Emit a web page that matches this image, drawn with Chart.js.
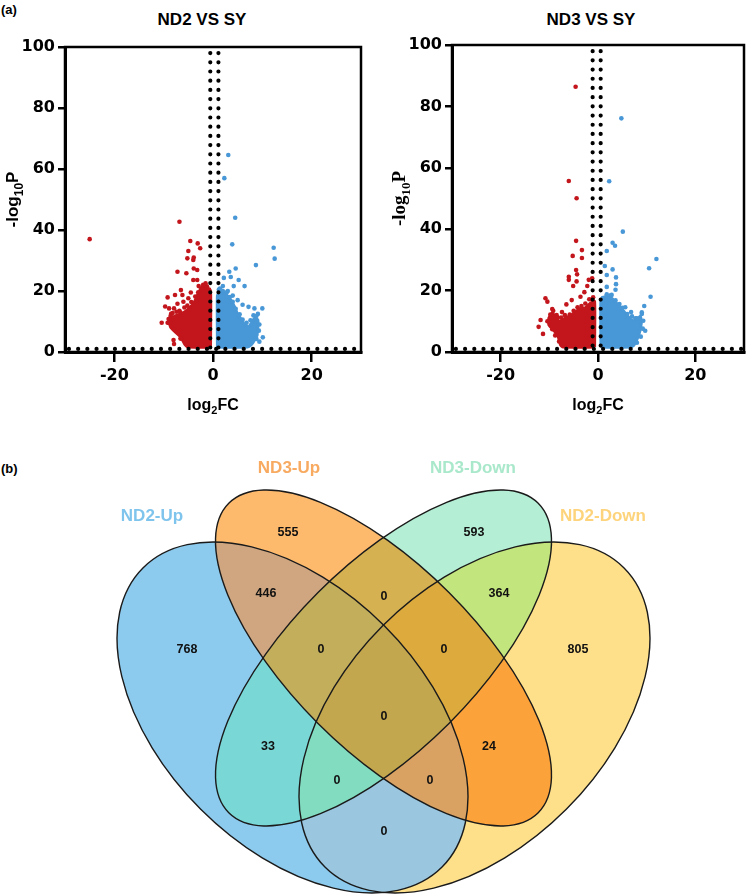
<!DOCTYPE html>
<html>
<head>
<meta charset="utf-8">
<script src="https://cdn.jsdelivr.net/npm/chart.js@4.4.0/dist/chart.umd.min.js"></script>
<style>
  html, body { margin: 0; padding: 0; background: #fff; }
  body { width: 748px; height: 894px; position: relative; overflow: hidden;
         font-family: "Liberation Sans", Arial, sans-serif; }
  .abs { position: absolute; }
  .panel { font-weight: bold; font-size: 13px; color: #000; }
  .ttl { font-weight: bold; font-size: 17px; color: #000; white-space: nowrap; transform: translateX(-50%); }
</style>
</head>
<body>
<div class="abs panel" style="left:1px;top:2px">(a)</div>
<div class="abs ttl" style="left:202px;top:10px">ND2 VS SY</div>
<div class="abs ttl" style="left:591px;top:10px">ND3 VS SY</div>
<div class="abs panel" style="left:1px;top:461px">(b)</div>
<div class="abs" style="left:0;top:0;width:374px;height:420px"><canvas id="c1"></canvas></div>
<div class="abs" style="left:374px;top:0;width:374px;height:420px"><canvas id="c2"></canvas></div>
<div class="abs" style="left:0;top:440px;width:748px;height:454px"><canvas id="c3"></canvas></div>
<script>
// ---------------- DATA ----------------
const X_TICKS = [-20, 0, 20];
const Y_TICKS = [0, 20, 40, 60, 80, 100];

// Panel (a) left: ND2 VS SY  (x = log2FC, y = -log10P)
const nd2DownX = [-25.0,-6.8,-4.6,-3.1,-2.6,-5.0,-5.2,-3.9,-4.0,-7.2,-5.4,-3.9,-3.2,-4.0,-3.2,-2.9,-6.5,-9.2,-7.7,-6.2,-5.0,-2.9,-9.7,-8.9,-7.9,-7.2,-10.4,-9.2,-8.0,-7.9,-1.5,-2.2,-0.8,-6.0,-4.5,-8.5,-6.8,-1.2,-2.0,
                  -8.6,-8.2,-7.4,-6.6,-5.8,-5.2,-4.4,-3.6,-3.0,-2.4,-9.0,-8.9,-7.0,-6.6,-1.6];
const nd2DownY = [37.0,42.7,36.4,35.6,34.0,33.1,30.7,31.0,30.2,26.3,25.8,27.4,26.9,23.6,23.6,21.6,20.3,17.9,18.7,18.7,17.6,18.8,14.9,14.3,14.3,15.8,9.6,9.6,3.9,2.6,22.5,21.0,20.5,16.5,19.5,12.5,13.5,21.5,22.0,
                  11.8,12.8,13.2,12.9,14.6,15.2,16.4,18.2,19.6,20.6,10.8,9.5,6.2,4.4,22.0];
const nd2UpX = [3.1,2.3,4.5,3.9,12.3,12.5,8.7,4.6,3.3,3.6,2.2,5.2,6.4,4.2,2.0,8.4,10.0,7.2,9.1,8.8,10.1,9.4,1.2,3.0,5.0,6.0,4.0,
                1.4,2.0,2.8,3.4,4.0,4.6,5.4,6.0,6.8,7.6,8.2,8.8,9.4,9.3,8.8];
const nd2UpY = [64.6,57.0,44.0,35.3,34.2,30.6,28.5,27.4,26.3,24.6,24.3,23.6,21.6,21.6,21.6,14.3,14.3,14.8,12.5,5.6,4.8,3.4,20.5,20.0,17.0,15.5,18.5,
                20.8,20.0,19.6,18.0,16.5,14.2,12.4,10.6,9.6,10.4,12.0,11.8,9.0,7.0,4.3];
// dense clouds (outline of the solid mass of points)
const nd2DownCloudX = [-0.5,-0.5,-1.2,-2.0,-2.6,-3.3,-3.9,-4.6,-5.2,-6.2,-7.0,-7.9,-8.9,-8.6,-7.6,-6.6,-6.0,-5.6,-5.0,-0.5];
const nd2DownCloudY = [1.6,20.0,21.0,20.8,20.3,18.0,16.0,14.8,13.8,12.7,12.2,11.6,10.5,8.2,6.5,5.0,3.4,2.3,1.6,1.6];
const nd2UpCloudX = [0.9,0.9,1.6,2.6,3.6,4.3,4.9,5.6,6.2,7.2,7.8,8.4,9.1,9.0,8.4,7.7,7.0,0.9];
const nd2UpCloudY = [1.6,18.5,19.8,19.0,17.0,15.0,12.7,11.0,9.4,8.2,9.5,11.0,10.5,6.5,3.9,2.3,1.6,1.6];
const nd2CutX = [-0.55, 1.1];
const nd2CutY = 1.0;

// Panel (a) right: ND3 VS SY
const nd3DownX = [-4.6,-6.0,-4.4,-4.5,-3.3,-5.2,-3.3,-4.5,-4.3,-6.0,-6.0,-5.1,-4.4,-10.8,-10.4,-11.8,-12.2,-11.3,-9.4,-7.4,-5.4,-3.6,-1.9,-2.2,-1.2,-2.8,-8.5,-6.5,
                  -1.0,-1.8,-2.6,-3.4,-4.2,-5.0,-5.8,-6.8,-7.6,-8.4,-9.2,-9.8,-10.4,-9.4,-8.8,-8.0];
const nd3DownY = [86.4,55.7,50.1,36.2,33.2,31.3,30.6,26.7,25.3,23.5,24.5,21.5,23.0,17.5,16.4,10.4,8.2,5.9,14.0,13.0,16.9,18.0,23.5,21.5,24.0,19.5,12.0,15.5,
                  17.8,17.2,15.8,15.0,14.6,13.4,12.2,12.0,11.2,11.2,13.4,12.2,10.0,7.4,5.4,3.4];
const nd3UpX = [4.8,2.3,5.1,3.0,3.5,1.8,12.0,1.4,10.5,3.0,1.8,3.7,3.7,3.6,1.8,10.8,9.5,9.0,9.7,5.6,7.7,2.6,6.8,
                1.0,1.8,2.8,3.6,4.4,5.0,6.0,7.0,8.0,9.0,9.3,9.2,8.8,8.0];
const nd3UpY = [76.1,55.6,39.2,35.6,34.6,32.9,30.3,28.0,27.3,26.9,25.1,24.3,22.1,20.3,21.2,18.0,15.0,12.9,6.9,14.6,11.0,18.5,13.0,
                17.6,18.8,18.6,16.8,15.6,14.4,12.4,11.6,11.0,12.4,10.2,7.6,5.0,3.0];
const nd3DownCloudX = [-0.7,-0.7,-1.5,-2.6,-3.9,-5.3,-6.6,-8.0,-9.4,-10.1,-10.1,-8.3,-7.7,-7.2,-0.7];
const nd3DownCloudY = [1.6,16.5,16.0,14.4,13.9,12.2,11.1,10.0,12.7,11.0,8.9,5.6,2.3,1.6,1.6];
const nd3UpCloudX = [0.6,0.6,1.4,2.6,4.0,5.3,6.7,7.7,8.7,8.9,8.4,7.4,6.8,0.6];
const nd3UpCloudY = [1.6,16.5,18.0,17.8,15.5,13.3,10.6,10.0,11.7,9.5,5.7,2.3,1.6,1.6];
const nd3CutX = [-1.1, 0.55];
const nd3CutY = 1.0;

// Panel (b): Venn diagram
const vennSets = ['ND2-Up', 'ND3-Up', 'ND3-Down', 'ND2-Down'];
// membership of each region in [ND2-Up, ND3-Up, ND3-Down, ND2-Down]
const vennRegions = ['1000','0100','0010','0001','1100','0011','0110','1110','0111','1111','1010','0101','1011','1101','1001'];
const vennCounts  = [768, 555, 593, 805, 446, 364, 0, 0, 0, 0, 33, 24, 0, 0, 0];

// ---------------- LAYOUT / STYLE ----------------
const RED = '#c3161c', BLUE = '#4897d6';
const SANS = '"Liberation Sans", Arial, sans-serif';
const TICKFONT = '"DejaVu Sans", "Liberation Sans", sans-serif';
const vennLabelPos = [[187,210],[288,93],[474,93],[578,210],[266,154],[499,154],[384,157],[321,210],[444,210],[384,277],[268,307],[489,307],[337,341],[430,341],[384,392]];
const vennRegionColors = ['#8dcbee','#fdba6d','#b4eed4','#fee08b','#cfa680','#c3e57d','#d6b152','#c3ae5b','#dcaa3d','#c3a74f','#79d8d6','#fba33a','#82dcc0','#d9a262','#9ac7df'];
const vennEllipses = [
  {cx: 292.5, cy: 277.5, a: 211.5, b: 129.8, rot: 45},
  {cx: 383.5, cy: 218,   a: 218.8, b: 92.6,  rot: 45},
  {cx: 383.5, cy: 218,   a: 218.8, b: 92.6,  rot: -45},
  {cx: 474.5, cy: 277.5, a: 211.5, b: 129.8, rot: -45}
];
const vennSetLabelPos = [[152,76],[289,28],[473,28],[603,76]];
const vennSetColors = ['#7fc4ec','#f7aa60','#a9e8cb','#fdd47c'];

const zip = (xs, ys) => xs.map((x, i) => ({x, y: ys[i]}));

function drawSub(ctx, parts, cx, cy, rot, family, size) {
  const big = 'bold ' + size + 'px ' + family, small = 'bold ' + Math.round(size * 0.68) + 'px ' + family;
  let w = 0;
  parts.forEach(([t, sub]) => { ctx.font = sub ? small : big; w += ctx.measureText(t).width; });
  ctx.save();
  ctx.translate(cx, cy);
  ctx.rotate(rot);
  ctx.textBaseline = 'alphabetic';
  ctx.textAlign = 'left';
  let x = -w / 2;
  parts.forEach(([t, sub]) => {
    ctx.font = sub ? small : big;
    ctx.fillText(t, x, sub ? size * 0.62 : size * 0.38);
    x += ctx.measureText(t).width;
  });
  ctx.restore();
}

const framePlugin = {
  id: 'frame',
  afterDraw(chart, args, opts) {
    const {ctx, chartArea: a} = chart;
    ctx.save();
    ctx.strokeStyle = '#000';
    ctx.lineWidth = 2.5;
    ctx.strokeRect(a.left, a.top, a.right - a.left, a.bottom - a.top);
    ctx.fillStyle = '#000';
    drawSub(ctx, [['log',0],['2',1],['FC',0]], (a.left + a.right) / 2, a.bottom + 52, 0, SANS, 16);
    drawSub(ctx, [['-log',0],['10',1],['P',0]], opts.yTitleX, (a.top + a.bottom) / 2, -Math.PI / 2, opts.yFamily, opts.ySize);
    ctx.restore();
  }
};

function volcano(id, cfg) {
  const dotted = (pts) => ({
    type: 'line', data: pts, borderColor: '#000', borderWidth: 4.2,
    borderDash: [0, 9.2], borderCapStyle: 'round', pointRadius: 0, fill: false, order: 0, tension: 0
  });
  const cloud = (pts, col) => ({
    type: 'line', data: pts, borderColor: col, backgroundColor: col, borderWidth: 3,
    borderJoinStyle: 'round', pointRadius: 0, fill: 'shape', order: 2, tension: 0.15
  });
  const pts = (p, col) => ({
    type: 'scatter', data: p, backgroundColor: col, borderWidth: 0, pointRadius: 2.3, order: 1
  });
  return new Chart(document.getElementById(id), {
    type: 'scatter',
    data: {
      datasets: [
        dotted([{x: cfg.cutX[0], y: 98}, {x: cfg.cutX[0], y: 1}]),
        dotted([{x: cfg.cutX[1], y: 98}, {x: cfg.cutX[1], y: 1}]),
        dotted([{x: -29.2, y: cfg.cutY}, {x: 30, y: cfg.cutY}]),
        pts(zip(cfg.downX, cfg.downY), RED),
        pts(zip(cfg.upX, cfg.upY), BLUE),
        cloud(zip(cfg.downCX, cfg.downCY), RED),
        cloud(zip(cfg.upCX, cfg.upCY), BLUE)
      ]
    },
    options: {
      responsive: true, maintainAspectRatio: false, animation: false,
      layout: {padding: {top: cfg.top, right: cfg.right, left: 0, bottom: 0}},
      plugins: {legend: {display: false}, tooltip: {enabled: false},
                frame: {yTitleX: cfg.yTitleX, yFamily: cfg.yFamily, ySize: cfg.ySize}},
      scales: {
        x: {
          type: 'linear', min: -30, max: 30,
          afterBuildTicks: s => { s.ticks = X_TICKS.map(v => ({value: v})); },
          afterFit: s => { s.height = 68; },
          ticks: {color: '#000', font: {family: TICKFONT, size: 16, weight: 'bold'}, padding: 4, maxRotation: 0},
          grid: {display: true, drawOnChartArea: false, drawTicks: true, tickLength: 10, color: '#000', lineWidth: 2.5},
          border: {display: true, color: '#000', width: 3}
        },
        y: {
          type: 'linear', min: 0, max: 100,
          afterBuildTicks: s => { s.ticks = Y_TICKS.map(v => ({value: v})); },
          afterFit: s => { s.width = cfg.yWidth; },
          ticks: {color: '#000', font: {family: TICKFONT, size: 16, weight: 'bold'}, padding: 3},
          grid: {display: true, drawOnChartArea: false, drawTicks: true, tickLength: 7, color: '#000', lineWidth: 2.5},
          border: {display: true, color: '#000', width: 3}
        }
      }
    },
    plugins: [framePlugin]
  });
}

volcano('c1', {downX: nd2DownX, downY: nd2DownY, upX: nd2UpX, upY: nd2UpY,
  downCX: nd2DownCloudX, downCY: nd2DownCloudY, upCX: nd2UpCloudX, upCY: nd2UpCloudY,
  cutX: nd2CutX, cutY: nd2CutY, top: 47, right: 13, yWidth: 65, yTitleX: 12, ySize: 17,
  yFamily: SANS});
volcano('c2', {downX: nd3DownX, downY: nd3DownY, upX: nd3UpX, upY: nd3UpY,
  downCX: nd3DownCloudX, downCY: nd3DownCloudY, upCX: nd3UpCloudX, upCY: nd3UpCloudY,
  cutX: nd3CutX, cutY: nd3CutY, top: 45, right: 2, yWidth: 78, yTitleX: 24, ySize: 19,
  yFamily: '"Liberation Serif", "Times New Roman", serif'});

// ---------------- VENN ----------------
const vennPlugin = {
  id: 'venn',
  beforeDatasetsDraw(chart) {
    const {ctx, width: W, height: H} = chart;
    const xs = chart.scales.x, ys = chart.scales.y;
    const k = Math.abs(xs.getPixelForValue(100) - xs.getPixelForValue(0)) / 100;
    const path = (e) => ctx.ellipse(xs.getPixelForValue(e.cx), ys.getPixelForValue(e.cy), e.a * k, e.b * k, e.rot * Math.PI / 180, 0, Math.PI * 2);
    vennRegions.forEach((mask, i) => {
      ctx.save();
      for (let j = 0; j < 4; j++) {
        ctx.beginPath();
        if (mask[j] === '1') { path(vennEllipses[j]); ctx.clip(); }
        else { ctx.rect(0, 0, W, H); path(vennEllipses[j]); ctx.clip('evenodd'); }
      }
      ctx.fillStyle = vennRegionColors[i];
      ctx.fillRect(0, 0, W, H);
      ctx.restore();
    });
    ctx.save();
    ctx.strokeStyle = '#1a1a1a';
    ctx.lineWidth = 1.4;
    vennEllipses.forEach(e => { ctx.beginPath(); path(e); ctx.stroke(); });
    ctx.font = 'bold 17px ' + SANS;
    ctx.textAlign = 'center';
    ctx.textBaseline = 'middle';
    vennSets.forEach((s, i) => {
      ctx.fillStyle = vennSetColors[i];
      ctx.fillText(s, xs.getPixelForValue(vennSetLabelPos[i][0]), ys.getPixelForValue(vennSetLabelPos[i][1]));
    });
    ctx.restore();
  },
  afterDatasetsDraw(chart) {
    const {ctx} = chart;
    const meta = chart.getDatasetMeta(0);
    ctx.save();
    ctx.fillStyle = '#111';
    ctx.font = 'bold 12.5px ' + SANS;
    ctx.textAlign = 'center';
    ctx.textBaseline = 'middle';
    meta.data.forEach((pt, i) => ctx.fillText(String(vennCounts[i]), pt.x, pt.y));
    ctx.restore();
  }
};

new Chart(document.getElementById('c3'), {
  type: 'scatter',
  data: {datasets: [{data: vennLabelPos.map(p => ({x: p[0], y: p[1]})), pointRadius: 0}]},
  options: {
    responsive: true, maintainAspectRatio: false, animation: false,
    layout: {padding: 0},
    plugins: {legend: {display: false}, tooltip: {enabled: false}},
    scales: {
      x: {type: 'linear', min: 0, max: 748, display: false},
      y: {type: 'linear', min: 0, max: 454, reverse: true, display: false}
    }
  },
  plugins: [vennPlugin]
});
</script>
</body>
</html>
